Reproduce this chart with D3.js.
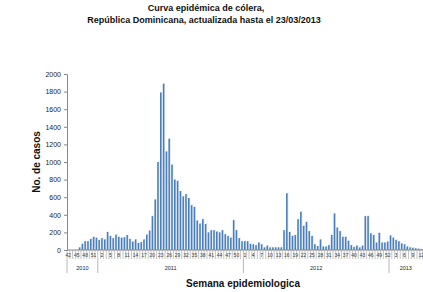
<!DOCTYPE html>
<html>
<head>
<meta charset="utf-8">
<script src="https://cdn.jsdelivr.net/npm/d3@7"></script>
<style>
  body { margin: 0; background: #fff; }
  svg { font-family: "Liberation Sans", Arial, sans-serif; }
</style>
</head>
<body>
<div class="chart"></div>
<script>
// casos semanales por año (semana epidemiologica)
const years = ['2010', '2011', '2012', '2013'];
const weeks2010 = [42, 43, 44, 45, 46, 47, 48, 49, 50, 51, 52];
const cases2010 = [0, 0, 0, 0, 30, 70, 100, 100, 125, 150, 140];
const cases2011 = [115, 135, 120, 205, 160, 135, 175, 150, 140, 145,
                   170, 125, 95, 120, 80, 90, 120, 175, 220, 385,
                   575, 1000, 1790, 1890, 1120, 1265, 970, 800, 785, 670,
                   610, 635, 590, 510, 490, 335, 300, 350, 295, 200,
                   225, 225, 210, 200, 225, 180, 160, 140, 340, 225,
                   135, 100];
const cases2012 = [100, 100, 70, 65, 55, 85, 65, 30, 50, 30,
                   30, 30, 30, 30, 225, 645, 205, 160, 170, 350,
                   435, 275, 320, 215, 160, 65, 45, 120, 40, 40,
                   55, 170, 415, 255, 215, 150, 150, 105, 55, 35,
                   50, 30, 50, 385, 385, 190, 170, 85, 195, 85,
                   85, 95];
const cases2013 = [165, 140, 115, 100, 75, 65, 40, 30, 25, 20, 15, 10];
const yTicks = [0, 200, 400, 600, 800, 1000, 1200, 1400, 1600, 1800, 2000];

const width = 423, height = 292;
const margin = { top: 74, left: 67, right: 0, bottom: 42 };

// build one row per week
let rows = [];
weeks2010.forEach((w, i) => rows.push({ year: '2010', week: w, v: cases2010[i] }));
cases2011.forEach((v, i) => rows.push({ year: '2011', week: i + 1, v }));
cases2012.forEach((v, i) => rows.push({ year: '2012', week: i + 1, v }));
cases2013.forEach((v, i) => rows.push({ year: '2013', week: i + 1, v }));
rows.forEach((d, i) => d.i = i);

const x = d3.scaleBand()
    .domain(rows.map(d => d.i))
    .range([margin.left, margin.left + rows.length * 2.8])
    .paddingInner(0.45)
    .paddingOuter(0.2);

const y = d3.scaleLinear()
    .domain([0, 2000])
    .range([height - margin.bottom, margin.top]);

const svg = d3.select('.chart').append('svg')
    .attr('width', width)
    .attr('height', height);

// title
const title = svg.append('text')
    .attr('text-anchor', 'middle')
    .attr('font-weight', 'bold')
    .attr('font-size', 9)
    .attr('fill', '#111');
title.append('tspan').attr('x', 206).attr('y', 11).text('Curva epidémica de cólera,');
title.append('tspan').attr('x', 204).attr('y', 23).text('República Dominicana, actualizada hasta el 23/03/2013');

// bars: light shade then blue bar
const bw = x.bandwidth();
svg.append('g').selectAll('rect')
    .data(rows)
    .join('rect')
    .attr('x', d => x(d.i) + 0.8)
    .attr('y', d => y(d.v) - 0.6)
    .attr('width', bw)
    .attr('height', d => y(0) - y(d.v) + 0.6)
    .attr('fill', '#dbe5f2');

svg.append('g').selectAll('rect')
    .data(rows)
    .join('rect')
    .attr('x', d => x(d.i))
    .attr('y', d => y(d.v))
    .attr('width', bw)
    .attr('height', d => y(0) - y(d.v))
    .attr('fill', '#4a7ebb');

// y axis
const yAxis = svg.append('g')
    .attr('transform', `translate(${margin.left},0)`)
    .call(d3.axisLeft(y).tickValues(yTicks).tickFormat(d3.format('d')).tickSize(3).tickPadding(3));
yAxis.select('.domain').attr('stroke', '#888');
yAxis.selectAll('.tick line').attr('stroke', '#888');
yAxis.selectAll('text').attr('font-size', 7).attr('fill', '#222')
    .attr('font-family', '"Liberation Sans", Arial, sans-serif');

svg.append('text')
    .attr('transform', `translate(40,${(y(0) + y(2000)) / 2}) rotate(-90)`)
    .attr('text-anchor', 'middle')
    .attr('font-weight', 'bold')
    .attr('font-size', 10)
    .attr('fill', '#111')
    .text('No. de casos');

// x axis, week labels every third week
const y0 = y(0);
const xAxis = svg.append('g')
    .attr('transform', `translate(0,${y0})`)
    .call(d3.axisBottom(x)
        .tickValues(rows.filter(d => d.i % 3 === 0).map(d => d.i))
        .tickFormat(i => rows[i].week)
        .tickSize(0)
        .tickPadding(3.5));
xAxis.select('.domain').remove();
xAxis.selectAll('text').attr('font-size', 5).attr('fill', '#222')
    .attr('font-family', '"Liberation Sans", Arial, sans-serif');

const x0 = margin.left;

svg.append('line')
    .attr('x1', x0).attr('x2', width)
    .attr('y1', y0).attr('y2', y0)
    .attr('stroke', '#888');

// separators between weeks
svg.append('g').selectAll('line')
    .data(d3.range(rows.length + 1))
    .join('line')
    .attr('x1', k => x0 + k * 2.8)
    .attr('x2', k => x0 + k * 2.8)
    .attr('y1', y0)
    .attr('y2', y0 + 9)
    .attr('stroke', '#999')
    .attr('stroke-width', 0.6);

// year groups
const groups = years.map(yr => {
    const r = rows.filter(d => d.year === yr);
    return { year: yr, start: r[0].i, end: r[r.length - 1].i + 1 };
});

svg.append('g').selectAll('line')
    .data([0].concat(groups.slice(0, -1).map(g => g.end)))
    .join('line')
    .attr('x1', k => x0 + k * 2.8)
    .attr('x2', k => x0 + k * 2.8)
    .attr('y1', y0 + 9)
    .attr('y2', y0 + 23)
    .attr('stroke', '#999')
    .attr('stroke-width', 0.7);

svg.append('g').selectAll('text')
    .data(groups)
    .join('text')
    .attr('x', g => Math.min(x0 + (g.start + g.end) / 2 * 2.8, (x0 + g.start * 2.8 + width) / 2))
    .attr('y', y0 + 20)
    .attr('text-anchor', 'middle')
    .attr('font-size', 5.5)
    .attr('fill', '#222')
    .text(g => g.year);

svg.append('text')
    .attr('x', 243)
    .attr('y', 287)
    .attr('text-anchor', 'middle')
    .attr('font-weight', 'bold')
    .attr('font-size', 10)
    .attr('fill', '#111')
    .text('Semana epidemiologica');
</script>
</body>
</html>
